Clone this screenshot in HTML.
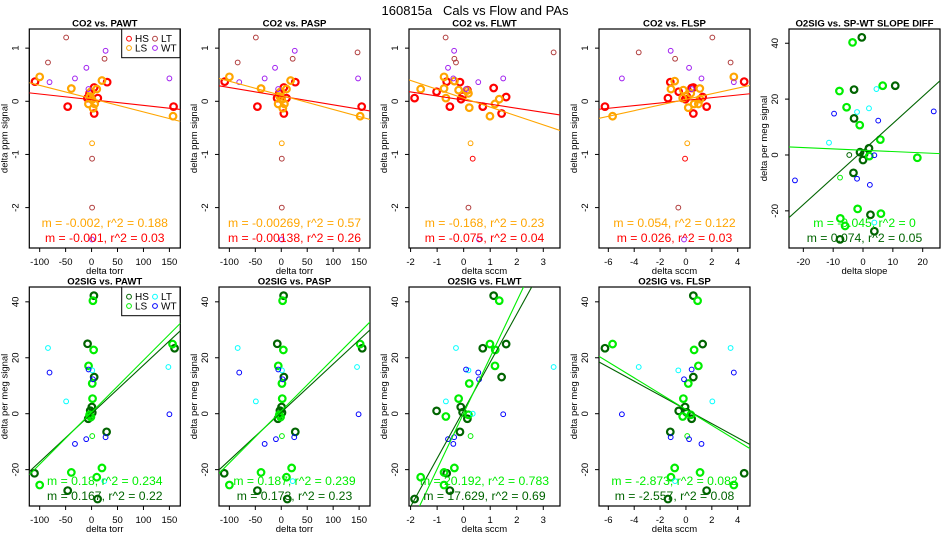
<!DOCTYPE html>
<html><head><meta charset="utf-8"><style>
html,body{margin:0;padding:0;background:#fff;}
svg{display:block;font-family:"Liberation Sans",Arial,sans-serif;}
</style></head><body>
<svg id="chart" width="950" height="550" xmlns="http://www.w3.org/2000/svg">
<rect width="950" height="550" fill="#fff"/>
<text x="475" y="15" text-anchor="middle" font-size="13" style="white-space:pre">160815a   Cals vs Flow and PAs</text>
</svg>
<script>
// ---- data ----
const p1X=[-109,-46,5,30,12,5,-8,-4,158, -100,-39,20,10,-6,3,6,-3,1,157,-1, 1, -49,-84,25,1,1, 27,-10,-32,-81,150,-6,1];
const p1Y=[0.37,-0.10,-0.23,0.36,0.06,0.26,0.06,0.15,-0.10, 0.46,0.24,0.39,0.23,-0.05,-0.13,-0.05,0.09,0.03,-0.28,0.18, -0.79, 1.2,0.73,0.80,-1.08,-2.0, 0.95,0.63,0.43,0.36,0.43,0.23,-2.6];
const p1G=['HS','HS','HS','HS','HS','HS','HS','HS','HS','LS','LS','LS','LS','LS','LS','LS','LS','LS','LS','LS','LSo','LT','LT','LT','LT','LT','WT','WT','WT','WT','WT','WT','WT'];
const p2X=[-109,-46,5,27,10,5,-8,-4,155, -100,-39,18,10,-6,3,6,-3,1,152,-1, 1, -49,-84,22,1,1,147, 26,-12,-32,-81,148,-6,1];
const p2Y=[0.37,-0.10,-0.23,0.36,0.06,0.26,0.06,0.15,-0.10, 0.46,0.24,0.39,0.23,-0.05,-0.13,-0.05,0.09,0.03,-0.28,0.18, -0.79, 1.2,0.73,0.80,-1.08,-2.0,0.92, 0.95,0.63,0.43,0.36,0.43,0.23,-2.6];
const p2G=['HS','HS','HS','HS','HS','HS','HS','HS','HS','LS','LS','LS','LS','LS','LS','LS','LS','LS','LS','LS','LSo','LT','LT','LT','LT','LT','LT','WT','WT','WT','WT','WT','WT','WT'];
const p3X=[-1.85,-1.02,-0.64,-0.52,-0.14,-0.10,-0.04,0.14,1.13,0.72,1.43,1.6, -1.62,-0.74,-0.74,-0.67,-0.35,-0.19,0.18,0.21,0.99,1.18,1.34,0.11, 0.26,0.34, -0.68,-0.35,-0.29,0.18,3.39, -0.36,-0.59,-0.39,0.55,1.49,0.09,0.58];
const p3Y=[0.06,0.18,0.37,-0.10,0.36,0.04,0.10,0.21,0.25,-0.10,-0.23,0.08, 0.23,0.46,0.24,0.06,0.38,0.21,0.15,-0.12,-0.28,-0.05,0.04,0.2, -0.79,-1.08, 1.2,0.80,0.73,-2.0,0.92, 0.95,0.63,0.43,0.36,0.43,0.23,-2.6];
const p3G=['HS','HS','HS','HS','HS','HS','HS','HS','HS','HS','HS','HS','LS','LS','LS','LS','LS','LS','LS','LS','LS','LS','LS','LS','LSo','HSo','LT','LT','LT','LT','LT','WT','WT','WT','WT','WT','WT','WT'];
const p4X=[-6.26,-1.39,-1.21,-0.56,-0.05,0.44,0.57,0.57,1.29,1.6,4.5,0.05, -5.67,-1.16,-0.87,-0.25,-0.2,0.18,0.37,0.63,0.96,1.09,1.07,3.7, 0.1,-0.07, -3.65,-0.84,2.04,3.45,-0.59, -4.95,-1.18,0.24,1.2,3.7,0.44,-0.15];
const p4Y=[-0.10,0.06,0.36,0.18,0.04,0.25,0.26,-0.23,0.08,-0.10,0.37,0.1, -0.28,0.23,0.38,0.06,0.21,-0.12,0.15,-0.05,-0.05,0.04,0.24,0.46, -0.79,-1.08, 0.92,0.80,1.2,0.73,-2.0, 0.43,0.95,0.63,0.43,0.36,0.23,-2.6];
const p4G=p3G;
const p5X=[-0.4,-3.0,10.8,-3.0,-1,0.4,0,-3.2,2.5,3.8,-7.7,2, -3.5,6.6,-7.9,-5.5,-1.1,5.8,2.1,18.2,-1.8,6.0,-7.6,-6.0, -4.6,-7.7, -11.4,-2,2,4.5,3.8, -22.8,-9.7,-2,2.3,3.8,5.1,23.7];
const p5Y=[42.1,23.4,24.8,13.1,1,0.5,-1.8,-6.4,-21.4,-27.3,-30.2,2.4, 40.3,24.8,22.9,17.1,10.7,5.5,-0.4,-1.0,-19.3,-21.0,-22.7,-25.4, 0,-8.1, 4.4,15.4,16.7,23.6,-24.2, -9.1,14.8,-8.5,-10.7,-0.1,12.3,15.6];
const p5G=['HS','HS','HS','HS','HS','HS','HS','HS','HS','HS','HS','HS','LS','LS','LS','LS','LS','LS','LS','LS','LS','LS','LS','LS','HSo','LSo','LT','LT','LT','LT','LT','WT','WT','WT','WT','WT','WT','WT'];
const p6X=[4.5,-7.7,160,5,0.6,-2.6,1.3,-6.4,29,-110,-46,11.6, 2.6,4,156,-5.8,1.3,1.9,-3.9,-1.3,-39,20,10,-100, 1.3, -84,-49,1.3,148,24.5, -81,-32,-10.3,-5.8,2.6,27,150];
const p6Y=[42.2,25,23.4,13.1,2.4,1.1,0.4,-1.8,-6.5,-21.3,-27.5,-30.5, 40.4,22.8,24.9,17.1,10.8,5.4,-0.4,-1.2,-21,-19.4,-22.7,-25.5, -8, 23.5,4.4,15.5,16.7,-24.1, 14.7,-10.8,-9.1,15.8,12.3,-8.4,-0.2];
const p6G=['HS','HS','HS','HS','HS','HS','HS','HS','HS','HS','HS','HS','LS','LS','LS','LS','LS','LS','LS','LS','LS','LS','LS','LS','LSo','LT','LT','LT','LT','LT','WT','WT','WT','WT','WT','WT','WT'];
const p7X=[4.5,-7.7,156,5,0.6,-2.6,1.3,-6.4,27,-110,-46,11.6, 2.6,4,152,-5.8,1.3,1.9,-3.9,-1.3,-39,20,10,-100, 1.3, -84,-49,1.3,146,22, -81,-32,-10.3,-5.8,2.6,25,149];
const p7Y=p6Y;
const p7G=p6G;
const p8X=[1.13,0.72,1.6,1.43,-0.11,-0.04,0.14,-0.14,-1.02,-0.64,-0.52,-1.85, 1.34,0.99,1.19,1.18,0.21,-0.19,0.18,-0.67,-0.74,-0.35,-1.62,-0.74, 0.26, -0.29,-0.67,0.18,3.39,0.34, 0.09,0.55,0.58,-0.59,-0.36,-0.39,1.49];
const p8Y=[42.2,23.4,24.9,13.1,2.4,0.5,-1.8,-6.5,1.0,-21.3,-27.5,-30.5, 40.4,24.9,22.8,17.1,10.8,5.4,-0.4,-1.0,-21,-19.4,-22.7,-25.5, -8, 23.5,4.4,15.5,16.7,0, 15.8,14.7,12.3,-9.1,-8.4,-10.8,-0.2];
const p8G=p6G;
const p9X=[0.57,-6.26,1.29,0.57,-0.07,0.05,0.44,-0.56,-1.21,4.5,1.6,-1.39, 0.9,-5.67,0.63,0.96,0.18,-0.2,0.37,-0.25,1.09,-0.87,-1.16,3.7, 0.1, 3.45,-3.65,-0.59,2.04,-0.84, 3.7,0.44,-0.15,-4.95,-1.18,0.24,1.2];
const p9Y=[42.2,23.4,24.9,13.1,2.4,0.5,-1.8,1,-6.5,-21.3,-27.5,-30.5, 40.4,24.9,22.8,17.1,10.8,5.4,-0.4,-1,-21,-19.4,-22.7,-25.5, -8, 23.5,16.7,15.5,4.4,-24.1, 14.7,15.8,12.3,-0.2,-8.4,-9.1,-10.8];
const p9G=p6G;
// fit lines [HS, LS]
const fitSlopes=[[-0.00107,-0.0025],[-0.00162,-0.00265],[-0.077,-0.167],[0.025,0.053],[0.968,-0.047],[0.173,0.186],[0.172,0.186],[17.2,20.0],[-2.53,-2.83]];
const fitIntercepts=[[0.03,0.05],[0.096,0.112],[0.022,0.058],[0.018,0.036],[1.6,1.7],[0.06,0.5],[0.54,1.0],[1.2,0.2],[1.5,1.5]];
const statLS=["m = -0.002, r^2 = 0.188","m = -0.00269, r^2 = 0.57","m = -0.168, r^2 = 0.23","m = 0.054, r^2 = 0.122","m = -0.045, r^2 = 0","m = 0.18, r^2 = 0.234","m = 0.187, r^2 = 0.239","m = 20.192, r^2 = 0.783","m = -2.873, r^2 = 0.082"];
const statHS=["m = -0.001, r^2 = 0.03","m = -0.00138, r^2 = 0.26","m = -0.075, r^2 = 0.04","m = 0.026, r^2 = 0.03","m = 0.074, r^2 = 0.05","m = 0.167, r^2 = 0.22","m = 0.173, r^2 = 0.23","m = 17.629, r^2 = 0.69","m = -2.557, r^2 = 0.08"];
const titles=["CO2 vs. PAWT","CO2 vs. PASP","CO2 vs. FLWT","CO2 vs. FLSP","O2SIG vs. SP-WT SLOPE DIFF","O2SIG vs. PAWT","O2SIG vs. PASP","O2SIG vs. FLWT","O2SIG vs. FLSP"];
const xTicksTorr=[-100,-50,0,50,100,150];
const xTicksFlwt=[-2,-1,0,1,2,3];
const xTicksFlsp=[-6,-4,-2,0,2,4];
const xTicksSlope=[-20,-10,0,10,20];
const yTicksCO2=[-2,-1,0,1];
const yTicksO2=[-20,0,20,40];

const NS="http://www.w3.org/2000/svg";
const svg=document.getElementById('chart');
function mk(tag,attrs,parent){const e=document.createElementNS(NS,tag);for(const k in attrs)e.setAttribute(k,attrs[k]);(parent||svg).appendChild(e);return e;}
const co2Col={HS:'#ff0000',LS:'#ffa500',HSo:'#ff0000',LSo:'#ffa500',LT:'#b03c3c',WT:'#a020f0'};
const o2Col={HS:'#006400',LS:'#00ee00',HSo:'#006400',LSo:'#00ee00',LT:'#00ffff',WT:'#0000ff'};
const co2Y=[-2.76,1.36], o2Y=[-33,45.3];
const panels=[
 {L:29.3,T:29,xr:[-120,171],yr:co2Y,xt:xTicksTorr,yt:yTicksCO2,X:p1X,Y:p1Y,G:p1G,col:co2Col,xl:'delta torr',yl:'delta ppm signal',leg:true},
 {L:219,T:29,xr:[-120,171],yr:co2Y,xt:xTicksTorr,yt:yTicksCO2,X:p2X,Y:p2Y,G:p2G,col:co2Col,xl:'delta torr',yl:'delta ppm signal'},
 {L:409,T:29,xr:[-2.06,3.63],yr:co2Y,xt:xTicksFlwt,yt:yTicksCO2,X:p3X,Y:p3Y,G:p3G,col:co2Col,xl:'delta sccm',yl:'delta ppm signal'},
 {L:599,T:29,xr:[-6.72,4.95],yr:co2Y,xt:xTicksFlsp,yt:yTicksCO2,X:p4X,Y:p4Y,G:p4G,col:co2Col,xl:'delta sccm',yl:'delta ppm signal'},
 {L:789,T:29,xr:[-24.8,25.8],yr:[-33.3,45.1],xt:xTicksSlope,yt:yTicksO2,X:p5X,Y:p5Y,G:p5G,col:o2Col,xl:'delta slope',yl:'delta per meg signal'},
 {L:29.3,T:287,xr:[-120,171],yr:o2Y,xt:xTicksTorr,yt:yTicksO2,X:p6X,Y:p6Y,G:p6G,col:o2Col,xl:'delta torr',yl:'delta per meg signal',leg:true},
 {L:219,T:287,xr:[-120,171],yr:o2Y,xt:xTicksTorr,yt:yTicksO2,X:p7X,Y:p7Y,G:p7G,col:o2Col,xl:'delta torr',yl:'delta per meg signal'},
 {L:409,T:287,xr:[-2.06,3.63],yr:o2Y,xt:xTicksFlwt,yt:yTicksO2,X:p8X,Y:p8Y,G:p8G,col:o2Col,xl:'delta sccm',yl:'delta per meg signal'},
 {L:599,T:287,xr:[-6.72,4.95],yr:o2Y,xt:xTicksFlsp,yt:yTicksO2,X:p9X,Y:p9Y,G:p9G,col:o2Col,xl:'delta sccm',yl:'delta per meg signal'}
];
const W=151,H=219;
panels.forEach((p,i)=>{
 const g=mk('g',{});
 
 
 const sx=v=>p.L+(v-p.xr[0])/(p.xr[1]-p.xr[0])*W;
 const sy=v=>p.T+H-(v-p.yr[0])/(p.yr[1]-p.yr[0])*H;
 const cid='clip'+i;
 const cp=mk('clipPath',{id:cid},g);mk('rect',{x:p.L,y:p.T,width:W,height:H},cp);
 const t=mk('text',{x:p.L+W/2,y:p.T-2.5,'text-anchor':'middle','font-size':'9.6','font-weight':'bold'},g);t.textContent=titles[i];
 
 
 const B=p.T+H;
 mk('line',{x1:sx(p.xt[0]),x2:sx(p.xt[p.xt.length-1]),y1:B,y2:B,stroke:'#000'},g);
 p.xt.forEach(v=>{mk('line',{x1:sx(v),x2:sx(v),y1:B,y2:B+4,stroke:'#000'},g);
  const tl=mk('text',{x:sx(v),y:B+17,'text-anchor':'middle','font-size':'9.5'},g);tl.textContent=v;
  
  });
 const xl=mk('text',{x:p.L+W/2,y:B+26,'text-anchor':'middle','font-size':'9.5'},g);xl.textContent=p.xl;
 
 
 mk('line',{x1:p.L,x2:p.L,y1:sy(p.yt[0]),y2:sy(p.yt[p.yt.length-1]),stroke:'#000'},g);
 p.yt.forEach(v=>{mk('line',{x1:p.L,x2:p.L-4,y1:sy(v),y2:sy(v),stroke:'#000'},g);
  const yy=sy(v);const tl=mk('text',{x:p.L-11,y:yy,'text-anchor':'middle','font-size':'9.5',transform:`rotate(-90 ${p.L-11} ${yy})`},g);tl.textContent=v;
  
  });
 const yc=p.T+H/2;const yl=mk('text',{x:p.L-22,y:yc,'text-anchor':'middle','font-size':'9.5',transform:`rotate(-90 ${p.L-22} ${yc})`},g);yl.textContent=p.yl;
 
 
 const bx=mk('rect',{x:p.L,y:p.T,width:W,height:H,fill:'none',stroke:'#000','stroke-width':'1.2'},g);
 
 
 p.X.forEach((xv,k)=>{const gr=p.G[k];const thick=(gr==='HS'||gr==='LS');
  const c=mk('circle',{cx:sx(xv),cy:sy(p.Y[k]),r:thick?3.3:2.4,fill:'none',stroke:p.col[gr],'stroke-width':thick?2.2:1},g);
  
  });
 ['HS','LS'].forEach((gr,j)=>{const m=fitSlopes[i][j],b=fitIntercepts[i][j];
  const ln=mk('line',{x1:sx(p.xr[0]),y1:sy(m*p.xr[0]+b),x2:sx(p.xr[1]),y2:sy(m*p.xr[1]+b),stroke:p.col[gr],'stroke-width':1.1,'clip-path':`url(#${cid})`},g);
  
  });
 const s1=mk('text',{x:p.L+W/2,y:B-21,'text-anchor':'middle','font-size':'12.2',fill:p.col.LS},g);s1.textContent=statLS[i];
 
 
 const s2=mk('text',{x:p.L+W/2,y:B-6,'text-anchor':'middle','font-size':'12.2',fill:p.col.HS},g);s2.textContent=statHS[i];
 
 
 if(p.leg){
  const lg=mk('g',{},g);
  
  
  mk('rect',{x:121.7,y:p.T,width:58.3,height:28.7,fill:'#fff',stroke:'#000'},lg);
  [['HS',129,9.7],['LT',155,9.7],['LS',129,19],['WT',155,19]].forEach(e=>{
   const le=mk('g',{},lg);
   
   
   mk('circle',{cx:e[1],cy:p.T+e[2],r:2.4,fill:'none',stroke:p.col[e[0]]},le);
   const tt=mk('text',{x:e[1]+6,y:p.T+e[2]+3.5,'font-size':'10'},le);tt.textContent=e[0];});
 }
});
</script>
</body></html>
